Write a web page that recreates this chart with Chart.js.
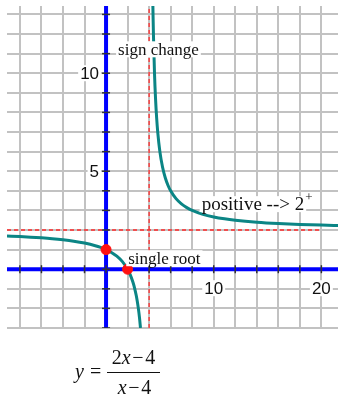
<!DOCTYPE html>
<html lang="en">
<head>
  <meta charset="UTF-8" />
  <title>y = (2x-4)/(x-4)</title>
  <script src="https://cdn.jsdelivr.net/npm/chart.js"></script>
  <style>
    body {
      margin: 0;
      background: #fff;
      width: 338px;
      height: 398px;
      overflow: hidden;
      position: relative;
    }
    #graph {
      position: absolute;
      left: 0;
      top: 0;
    }
    .eq {
      position: absolute;
      font-family: "Liberation Serif", "Times New Roman", serif;
      font-size: 20px;
      line-height: 20px;
      color: #111;
      white-space: nowrap;
    }
    .eq i { font-style: italic; }
    .frac { left: 106px; width: 55px; text-align: center; }
    #bar {
      position: absolute;
      left: 107px;
      top: 372px;
      width: 53px;
      height: 0;
      border-top: 1.5px solid #111;
    }
  </style>
</head>
<body>
  <canvas id="graph" width="346" height="398"></canvas>

  <div class="eq" style="left:75px; top:361px;"><i>y</i></div>
  <div class="eq" style="left:90px; top:361px;">=</div>
  <div class="eq frac" style="top:347px;">2<i>x</i>&#8202;−&#8202;4</div>
  <div id="bar"></div>
  <div class="eq frac" style="top:377px; left:107px;"><i>x</i>&#8202;−&#8202;4</div>

<script>
  // window of the graph
  const xMin = -9.2, xMax = 21.73;
  const yMin = -3, yMax = 13.43;

  // grid / tick positions
  const xGrid = [-8, -6, -4, -2, 0, 2, 4, 6, 8, 10, 12, 14, 16, 18, 20];
  const yGrid = [-3, -2, -1, 0, 1, 2, 3, 4, 5, 6, 7, 8, 9, 10, 11, 12, 13];
  const xLabelVals = [10, 20];
  const yLabelVals = [5, 10];

  // branch left of the asymptote
  const leftX = [-9.2, -8, -7, -6, -5, -4, -3, -2, -1, -0.5, 0, 0.5, 1, 1.5, 2, 2.25, 2.5, 2.65, 2.8, 2.9, 3, 3.1, 3.2];
  const leftY = [1.697, 1.667, 1.636, 1.6, 1.556, 1.5, 1.429, 1.333, 1.2, 1.111, 1, 0.857, 0.667, 0.4, 0, -0.286, -0.667, -0.963, -1.333, -1.636, -2, -2.444, -3];

  // branch right of the asymptote
  const rightX = [4.35, 4.4, 4.5, 4.6, 4.7, 4.8, 5, 5.25, 5.5, 5.75, 6, 6.5, 7, 7.5, 8, 9, 10, 11, 12, 14, 16, 18, 20, 21.73];
  const rightY = [13.43, 12, 10, 8.667, 7.714, 7, 6, 5.2, 4.667, 4.286, 4, 3.6, 3.333, 3.143, 3, 2.8, 2.667, 2.571, 2.5, 2.4, 2.333, 2.286, 2.25, 2.226];

  // y-intercept and root
  const dotX = [0, 2];
  const dotY = [1, 0];

  // asymptotes
  const vAsym = 4;
  const hAsym = 2;
  const hAsymEnd = 20;

  const pts = (xs, ys) => xs.map((x, i) => ({ x: x, y: ys[i] }));

  const teal = '#0b8585';

  // labels with a white box behind them, drawn last
  const labelPlugin = {
    id: 'labels',
    afterDatasetsDraw(chart) {
      const ctx = chart.ctx;
      const xs = chart.scales.x, ys = chart.scales.y;

      function boxText(text, px, py, align, font) {
        ctx.save();
        ctx.font = font;
        ctx.textBaseline = 'middle';
        const w = ctx.measureText(text).width;
        let left = px;
        if (align === 'center') left = px - w / 2;
        if (align === 'right') left = px - w;
        ctx.fillStyle = '#fff';
        ctx.fillRect(left - 2, py - 8, w + 4, 16);
        ctx.fillStyle = '#111';
        ctx.textAlign = 'left';
        ctx.fillText(text, left, py + 1);
        ctx.restore();
        return left + w;
      }

      const tickFont = '17px "Liberation Sans", Arial, sans-serif';
      xLabelVals.forEach(v => {
        boxText(String(v), xs.getPixelForValue(v), ys.getPixelForValue(0) + 19, 'center', tickFont);
      });
      yLabelVals.forEach(v => {
        boxText(String(v), xs.getPixelForValue(0) - 7, ys.getPixelForValue(v), 'right', tickFont);
      });

      const serif = '17px "Liberation Serif", "Times New Roman", serif';
      boxText('sign change', xs.getPixelForValue(1.12), ys.getPixelForValue(11.22), 'left', serif);
      boxText('single root', xs.getPixelForValue(2.06), ys.getPixelForValue(0.56), 'left', serif);
      const end = boxText('positive --> 2', xs.getPixelForValue(8.88), ys.getPixelForValue(3.32), 'left', '19px "Liberation Serif", "Times New Roman", serif');
      ctx.save();
      ctx.font = '13px "Liberation Serif", serif';
      ctx.fillStyle = '#111';
      ctx.textBaseline = 'middle';
      ctx.fillText('+', end + 1, ys.getPixelForValue(3.32) - 7);
      ctx.restore();
    }
  };

  new Chart(document.getElementById('graph'), {
    type: 'scatter',
    data: {
      datasets: [
        {
          // red points
          data: pts(dotX, dotY),
          backgroundColor: '#ff1010',
          borderColor: '#ff1010',
          pointRadius: 5,
          showLine: false,
          order: 0
        },
        {
          data: pts(leftX, leftY),
          borderColor: teal,
          borderWidth: 3,
          pointRadius: 0,
          showLine: true,
          cubicInterpolationMode: 'monotone',
          order: 2
        },
        {
          data: pts(rightX, rightY),
          borderColor: teal,
          borderWidth: 3,
          pointRadius: 0,
          showLine: true,
          cubicInterpolationMode: 'monotone',
          order: 2
        },
        {
          // small tick marks on the x axis
          data: xGrid.map(x => ({ x: x, y: 0 })),
          pointStyle: 'line',
          rotation: 90,
          pointRadius: 4,
          borderColor: '#333',
          borderWidth: 1.5,
          showLine: false,
          order: 1
        },
        {
          // small tick marks on the y axis
          data: yGrid.map(y => ({ x: 0, y: y })),
          pointStyle: 'line',
          pointRadius: 4,
          borderColor: '#333',
          borderWidth: 1.5,
          showLine: false,
          order: 1
        },
        {
          // x axis
          data: [{ x: xMin, y: 0 }, { x: xMax, y: 0 }],
          borderColor: '#0000ff',
          borderWidth: 4,
          pointRadius: 0,
          showLine: true,
          order: 3
        },
        {
          // y axis
          data: [{ x: 0, y: yMin }, { x: 0, y: yMax }],
          borderColor: '#0000ff',
          borderWidth: 4,
          pointRadius: 0,
          showLine: true,
          order: 3
        },
        {
          // vertical asymptote
          data: [{ x: vAsym, y: yMin }, { x: vAsym, y: yMax }],
          borderColor: '#ff2a2a',
          borderWidth: 1.3,
          borderDash: [4, 3],
          pointRadius: 0,
          showLine: true,
          order: 4
        },
        {
          // horizontal asymptote
          data: [{ x: xMin, y: hAsym }, { x: hAsymEnd, y: hAsym }],
          borderColor: '#ff2a2a',
          borderWidth: 1.3,
          borderDash: [4, 3],
          pointRadius: 0,
          showLine: true,
          order: 4
        }
      ]
    },
    options: {
      responsive: false,
      animation: false,
      layout: { padding: { left: 7, top: 6, right: 0, bottom: 70 } },
      plugins: {
        legend: { display: false },
        tooltip: { enabled: false }
      },
      scales: {
        x: {
          type: 'linear',
          min: xMin,
          max: xMax,
          afterBuildTicks: s => { s.ticks = xGrid.map(v => ({ value: v })); },
          ticks: { display: false },
          border: { display: false },
          grid: { color: '#c2c2c2', lineWidth: 2, drawTicks: false }
        },
        y: {
          type: 'linear',
          min: yMin,
          max: yMax,
          afterBuildTicks: s => { s.ticks = yGrid.map(v => ({ value: v })); },
          ticks: { display: false },
          border: { display: false },
          grid: { color: '#c2c2c2', lineWidth: 2, drawTicks: false }
        }
      }
    },
    plugins: [labelPlugin]
  });
</script>
</body>
</html>
